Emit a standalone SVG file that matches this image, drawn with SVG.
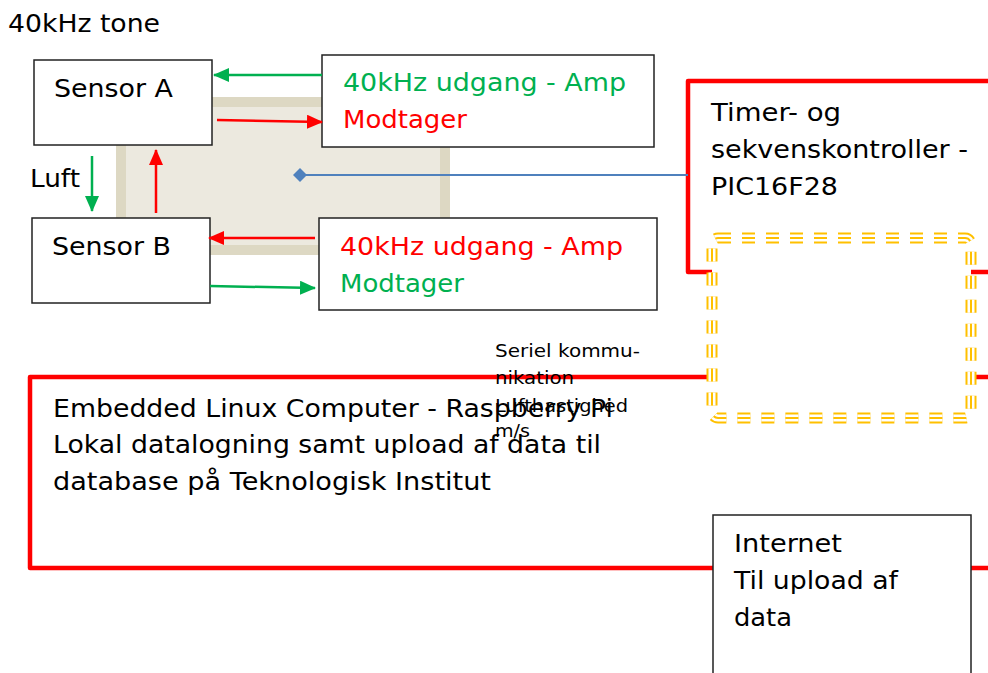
<svg xmlns="http://www.w3.org/2000/svg" width="988" height="673" viewBox="0 0 988 673">
<style>
text{font-family:"DejaVu Sans","Verdana",sans-serif;}
.t24{font-size:24px;fill:#000;}
.box{fill:#fff;stroke:#222;stroke-width:1.5;}
.red{stroke:#FF0000;}
.grn{stroke:#00B050;}
.ln{stroke-width:2.5;fill:none;}
.redbox{fill:none;stroke:#FF0000;stroke-width:4.5;stroke-linejoin:round;}
</style>
<defs>
<marker id="ar" markerUnits="userSpaceOnUse" markerWidth="16" markerHeight="14" viewBox="0 0 16 14" refX="15" refY="7" orient="auto"><path d="M0,0 L16,7 L0,14 Z" fill="#FF0000"/></marker>
<marker id="ag" markerUnits="userSpaceOnUse" markerWidth="16" markerHeight="14" viewBox="0 0 16 14" refX="15" refY="7" orient="auto"><path d="M0,0 L16,7 L0,14 Z" fill="#00B050"/></marker>
<marker id="dia" markerUnits="userSpaceOnUse" markerWidth="14" markerHeight="14" viewBox="0 0 14 14" refX="7" refY="7" orient="auto"><path d="M0,7 L7,0 L14,7 L7,14 Z" fill="#4F81BD"/></marker>
</defs>

<text class="t24" x="8" y="32" textLength="152" lengthAdjust="spacingAndGlyphs">40kHz tone</text>

<g id="background">
<rect x="121" y="102" width="324" height="148" fill="#ECE9DF" stroke="#DDD8C3" stroke-width="10"/>
</g>

<g id="sensorA">
<rect class="box" x="34" y="60" width="178" height="85"/>
<text class="t24" x="54" y="97" textLength="119" lengthAdjust="spacingAndGlyphs">Sensor A</text>
</g>
<g id="sensorB">
<rect class="box" x="32" y="218" width="178" height="85"/>
<text class="t24" x="52" y="255" textLength="119" lengthAdjust="spacingAndGlyphs">Sensor B</text>
</g>
<g id="ampA">
<rect class="box" x="322" y="55" width="332" height="92"/>
<text x="343" y="91" style="font-size:24px;fill:#00B050" textLength="283" lengthAdjust="spacingAndGlyphs">40kHz udgang - Amp</text>
<text x="343" y="128" style="font-size:24px;fill:#FF0000" textLength="124" lengthAdjust="spacingAndGlyphs">Modtager</text>
</g>
<g id="ampB">
<rect class="box" x="319" y="218" width="338" height="92"/>
<text x="340" y="255" style="font-size:24px;fill:#FF0000" textLength="283" lengthAdjust="spacingAndGlyphs">40kHz udgang - Amp</text>
<text x="340" y="292" style="font-size:24px;fill:#00B050" textLength="124" lengthAdjust="spacingAndGlyphs">Modtager</text>
</g>

<g id="timer">
<path class="redbox" d="M1000,81 L688,81 L688,272 L1000,272"/>
<text class="t24" x="711" y="121" textLength="130" lengthAdjust="spacingAndGlyphs">Timer- og</text>
<text class="t24" x="711" y="158" textLength="257" lengthAdjust="spacingAndGlyphs">sekvenskontroller -</text>
<text class="t24" x="711" y="195" textLength="127" lengthAdjust="spacingAndGlyphs">PIC16F28</text>
</g>

<g id="embedded">
<path class="redbox" d="M1000,377 L30,377 L30,568 L1000,568"/>
<text class="t24" x="53" y="417" textLength="560" lengthAdjust="spacingAndGlyphs">Embedded Linux Computer - Raspberry Pi</text>
<text class="t24" x="53" y="453" textLength="548" lengthAdjust="spacingAndGlyphs">Lokal datalogning samt upload af data til</text>
<text class="t24" x="53" y="490" textLength="438" lengthAdjust="spacingAndGlyphs">database på Teknologisk Institut</text>
</g>

<g id="yellowbox">
<rect x="712" y="238" width="259" height="180" rx="6" fill="#fff" stroke="#FFC000" stroke-width="11" stroke-dasharray="13 11"/>
<rect x="712" y="238" width="259" height="180" rx="6" fill="none" stroke="#fff" stroke-width="7" stroke-dasharray="13 11"/>
<rect x="712" y="238" width="259" height="180" rx="6" fill="none" stroke="#FFC000" stroke-width="2" stroke-dasharray="13 11"/>
</g>

<g id="internet">
<rect class="box" x="713" y="515" width="258" height="170"/>
<text class="t24" x="734" y="552" textLength="108" lengthAdjust="spacingAndGlyphs">Internet</text>
<text class="t24" x="734" y="589" textLength="164" lengthAdjust="spacingAndGlyphs">Til upload af</text>
<text class="t24" x="734" y="626" textLength="58" lengthAdjust="spacingAndGlyphs">data</text>
</g>

<g id="connectors">
<line class="ln grn" x1="322" y1="75" x2="214" y2="75" marker-end="url(#ag)"/>
<line class="ln red" x1="217" y1="120" x2="322" y2="122" marker-end="url(#ar)"/>
<line class="ln grn" x1="92" y1="156" x2="92" y2="211" marker-end="url(#ag)"/>
<line class="ln red" x1="156" y1="213" x2="156" y2="150" marker-end="url(#ar)"/>
<line class="ln red" x1="315" y1="238" x2="209" y2="238" marker-end="url(#ar)"/>
<line class="ln grn" x1="210" y1="286" x2="315" y2="288" marker-end="url(#ag)"/>
<line x1="688" y1="175" x2="300" y2="175" stroke="#4F81BD" stroke-width="2" marker-end="url(#dia)"/>
<text x="30" y="187" style="font-size:24px;fill:#000" textLength="50" lengthAdjust="spacingAndGlyphs">Luft</text>
</g>

<g id="labels">
<text x="495" y="357" style="font-size:17px;fill:#000" textLength="145" lengthAdjust="spacingAndGlyphs">Seriel kommu-</text>
<text x="495" y="384" style="font-size:17px;fill:#000" textLength="79" lengthAdjust="spacingAndGlyphs">nikation</text>
<text x="495" y="412" style="font-size:17px;fill:#000" textLength="133" lengthAdjust="spacingAndGlyphs">Lufthastighed</text>
<text x="495" y="437" style="font-size:17px;fill:#000" textLength="35" lengthAdjust="spacingAndGlyphs">m/s</text>
</g>
</svg>
